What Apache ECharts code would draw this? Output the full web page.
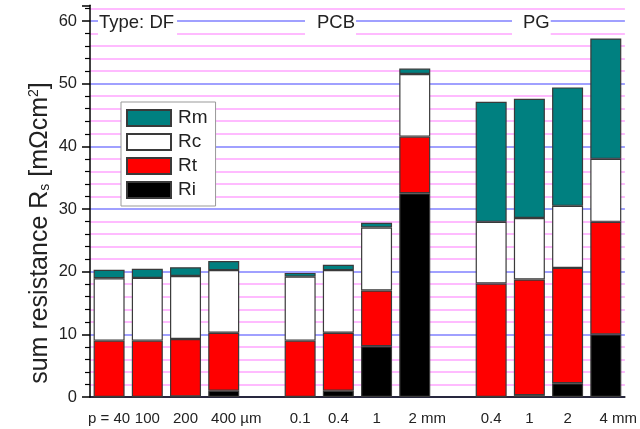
<!DOCTYPE html>
<html>
<head>
<meta charset="utf-8">
<script src="https://cdn.jsdelivr.net/npm/echarts@6/dist/echarts.min.js"></script>
<style>
html,body{margin:0;padding:0;background:#fff;}
#chart{width:640px;height:429px;}
</style>
</head>
<body>
<div id="chart"></div>
<script>
// categories (empty strings are the gaps between groups)
const categories = ['p = 40', '100', '200', '400 µm', '', '0.1', '0.4', '1', '2 mm', '', '0.4', '1', '2', '4 mm'];
// stacked components (mΩcm²), bottom to top
const Ri = [0, 0, 0.1, 1.0, null, 0, 1.0, 8.1, 32.5, null, 0, 0.3, 2.2, 10.0];
const Rt = [9.0, 9.0, 9.15, 9.25, null, 9.0, 9.25, 8.9, 9.05, null, 18.1, 18.45, 18.4, 17.95];
const Rc = [9.95, 10.0, 10.05, 10.0, null, 10.2, 10.0, 10.05, 10.0, null, 9.85, 9.8, 9.9, 10.05];
const Rm = [1.35, 1.45, 1.4, 1.45, null, 0.6, 0.85, 0.75, 0.85, null, 19.15, 19.05, 18.9, 19.2];
const seriesNames = ['Ri', 'Rt', 'Rc', 'Rm'];
const legendOrder = ['Rm', 'Rc', 'Rt', 'Ri'];
const groupLabels = ['Type: DF', 'PCB', 'PG'];
const yTicks = [0, 10, 20, 30, 40, 50, 60];

const colors = {Ri: '#000000', Rt: '#ff0000', Rc: '#ffffff', Rm: '#008080'};
const values = {Ri: Ri, Rt: Rt, Rc: Rc, Rm: Rm};

const chart = echarts.init(document.getElementById('chart'));
const FONT = '"Liberation Sans", Arial, sans-serif';

function xLabel(v) {
  const m = v.match(/^(.*) (µm|mm)$/);
  if (m) return '{sp|\u00a0}{n|' + m[1] + '}{n| ' + m[2] + '}';
  return '{n|' + v + '}';
}

const option = {
  animation: false,
  backgroundColor: '#ffffff',
  grid: {left: 90, right: 14, top: 5.3, bottom: 32, containLabel: false},
  legend: {
    data: legendOrder,
    orient: 'vertical',
    left: 121, top: 102,
    itemWidth: 44, itemHeight: 16, itemGap: 2,
    padding: [5, 8, 5, 5],
    backgroundColor: '#ffffff',
    borderColor: '#999999', borderWidth: 1,
    icon: 'rect',
    textStyle: {fontFamily: FONT, fontSize: 19, lineHeight: 22, color: '#222', padding: [0, 0, 0, 2]}
  },
  xAxis: {
    type: 'category',
    data: categories,
    axisLine: {lineStyle: {color: '#000', width: 1.5}},
    axisTick: {alignWithLabel: true, length: 6, lineStyle: {color: '#000', width: 1.5}},
    axisLabel: {
      interval: 0, margin: 14,
      formatter: xLabel,
      rich: {
        n: {fontFamily: FONT, fontSize: 15, color: '#222'},
        sp: {fontFamily: FONT, fontSize: 15, width: 25}
      }
    },
    splitLine: {show: false}
  },
  yAxis: {
    type: 'value',
    min: 0, max: 62.5, interval: 10,
    axisLine: {show: true, lineStyle: {color: '#000', width: 1.5}},
    axisTick: {show: true, length: 8, lineStyle: {color: '#000', width: 1.5}},
    minorTick: {show: true, splitNumber: 5, length: 5, lineStyle: {color: '#000', width: 1.2}},
    axisLabel: {
      margin: 13, fontFamily: FONT, fontSize: 16.5, color: '#222',
      showMaxLabel: false,
      formatter: function (v) { return yTicks.indexOf(v) >= 0 ? String(v) : ''; }
    },
    splitLine: {show: true, showMaxLine: false, lineStyle: {color: '#a0a0ff', width: 2}},
    minorSplitLine: {show: true, lineStyle: {color: '#ffbbff', width: 2}}
  },
  graphic: [
    {
      type: 'text', left: 98, top: 10, z: 100,
      style: {text: groupLabels[0], fontFamily: FONT, fontSize: 18.5, fill: '#222',
        backgroundColor: '#fff', padding: [3, 3, 3, 1]}
    },
    {
      type: 'text', left: 305, top: 10, z: 100,
      style: {text: groupLabels[1], fontFamily: FONT, fontSize: 18.5, fill: '#222',
        backgroundColor: '#fff', padding: [3, 1, 3, 12]}
    },
    {
      type: 'text', left: 512, top: 10, z: 100,
      style: {text: groupLabels[2], fontFamily: FONT, fontSize: 18.5, fill: '#222',
        backgroundColor: '#fff', padding: [3, 1, 3, 11]}
    },
    {
      type: 'text', x: 40, y: 233, rotation: Math.PI / 2, z: 100,
      style: {
        text: '{a|sum resistance R}{s|s}{a| [mΩcm}{p|2}{a|]}',
        align: 'center', verticalAlign: 'middle',
        rich: {
          a: {fontFamily: FONT, fontSize: 25, fill: '#222', verticalAlign: 'bottom'},
          s: {fontFamily: FONT, fontSize: 14, fill: '#222', verticalAlign: 'bottom'},
          p: {fontFamily: FONT, fontSize: 14, fill: '#222', verticalAlign: 'top'}
        }
      }
    }
  ],
  series: seriesNames.map(function (name) {
    return {
      name: name,
      type: 'bar',
      stack: 'total',
      barWidth: 31,
      data: values[name],
      itemStyle: {color: colors[name], borderColor: '#3a3a3a', borderWidth: 1.2},
      emphasis: {disabled: true}
    };
  })
};
chart.setOption(option);
</script>
</body>
</html>
